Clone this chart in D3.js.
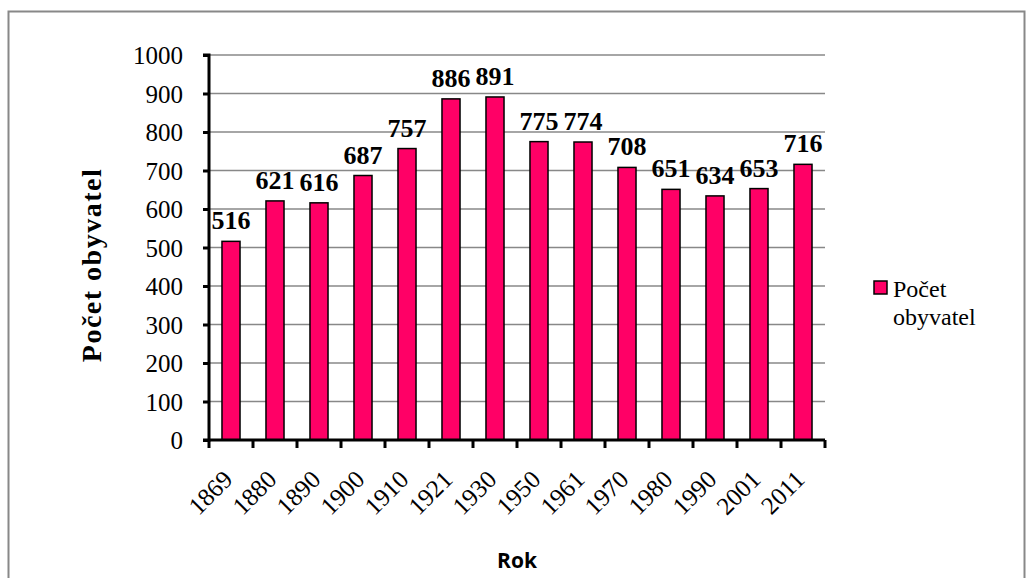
<!DOCTYPE html>
<html>
<head>
<meta charset="utf-8">
<script src="https://cdn.jsdelivr.net/npm/d3@7"></script>
<style>
  html, body { margin: 0; padding: 0; background: #fff; }
  svg { display: block; }
  .serif { font-family: "Liberation Serif", "Times New Roman", "DejaVu Serif", serif; }
</style>
</head>
<body>
<svg id="chart" width="1034" height="578"></svg>
<script>
const years = ["1869","1880","1890","1900","1910","1921","1930","1950","1961","1970","1980","1990","2001","2011"];
const population = [516, 621, 616, 687, 757, 886, 891, 775, 774, 708, 651, 634, 653, 716];
const yTicks = [0, 100, 200, 300, 400, 500, 600, 700, 800, 900, 1000];
const seriesName = ["Počet", "obyvatel"];
const yTitle = "Počet obyvatel";
const xTitle = "Rok";

(function () {
const svg = d3.select("#chart");
const barColor = "#FF0066";
const serifStack = '"Liberation Serif", "Times New Roman", "DejaVu Serif", serif';

// outer frame
svg.append("rect").attr("x", 8.5).attr("y", 11.5).attr("width", 1016).attr("height", 600)
  .attr("fill", "#fff").attr("stroke", "#888").attr("stroke-width", 2);

const pLeft = 209, pRight = 825, pTop = 55, pBottom = 440;
const x = d3.scaleBand().domain(years).range([pLeft, pRight]).paddingInner(0.59).paddingOuter(0.295);
const y = d3.scaleLinear().domain([0, 1000]).range([pBottom, pTop]);

// gridlines
svg.append("g").selectAll("line").data(yTicks.filter(d => d > 0)).join("line")
  .attr("x1", pLeft).attr("x2", pRight)
  .attr("y1", d => y(d)).attr("y2", d => y(d))
  .attr("stroke", "#888").attr("stroke-width", 1.5);

// bars
svg.append("g").selectAll("rect").data(population).join("rect")
  .attr("x", (d, i) => x(years[i]))
  .attr("y", d => y(d))
  .attr("width", x.bandwidth())
  .attr("height", d => y(0) - y(d))
  .attr("fill", barColor).attr("stroke", "#000").attr("stroke-width", 1.5);

// value labels
svg.append("g").selectAll("text").data(population).join("text")
  .attr("class", "serif")
  .attr("x", (d, i) => x(years[i]) + x.bandwidth() / 2)
  .attr("y", d => y(d) - 12)
  .attr("text-anchor", "middle")
  .style("font-weight", "bold").style("font-size", "26px")
  .text(d => d);

// y axis
const yAxis = d3.axisLeft(y).tickValues(yTicks).tickFormat(d3.format("d")).tickSize(6).tickPadding(20);
const gy = svg.append("g").attr("transform", `translate(${pLeft},0)`).call(yAxis);
gy.attr("font-family", null).attr("font-size", null);
gy.select(".domain").attr("stroke", "#000").attr("stroke-width", 3).attr("d", `M-6,${pTop}H0V${pBottom}H-6`);
gy.selectAll(".tick line").attr("stroke", "#000").attr("stroke-width", 3);
gy.selectAll(".tick text").attr("class", "serif").style("font-size", "25px").attr("fill", "#000").attr("dy", "0.35em");

// x axis
const xAxis = d3.axisBottom(x).tickSize(0).tickFormat(() => "");
const gx = svg.append("g").attr("transform", `translate(0,${pBottom})`).call(xAxis);
gx.select(".domain").attr("stroke", "#000").attr("stroke-width", 3).attr("d", `M${pLeft},0H${pRight}`);
const step = x.step();
const boundaries = years.map(d => x(d) + x.bandwidth() / 2 - step / 2).concat([pRight]);
gx.append("g").selectAll("line").data(boundaries).join("line")
  .attr("x1", d => d).attr("x2", d => d).attr("y1", 0).attr("y2", 8)
  .attr("stroke", "#000").attr("stroke-width", 3);

// x labels
svg.append("g").selectAll("text").data(years).join("text")
  .attr("class", "serif")
  .attr("transform", d => `translate(${x(d) + x.bandwidth() / 2 + 3},${pBottom + 41}) rotate(-45)`)
  .attr("text-anchor", "end")
  .style("font-size", "25px")
  .text(d => d);

// axis titles
svg.append("text")
  .attr("class", "serif")
  .attr("transform", `translate(101,${(163 + 367) / 2}) rotate(-90)`)
  .attr("text-anchor", "middle")
  .style("font-weight", "bold").style("font-size", "28px").style("letter-spacing", "1.5px")
  .text(yTitle);

svg.append("text")
  .attr("x", 517).attr("y", 568)
  .attr("text-anchor", "middle")
  .style("font-family", "'Open Sans', sans-serif").style("font-weight", "bold").style("font-size", "21px")
  .text(xTitle);

// legend
const lg = svg.append("g");
lg.append("rect").attr("x", 874).attr("y", 281).attr("width", 13).attr("height", 13)
  .attr("fill", barColor).attr("stroke", "#000").attr("stroke-width", 1.5);
lg.selectAll("text.leg").data(seriesName).join("text")
  .attr("class", "leg")
  .style("font-family", serifStack).style("font-size", "24px")
  .attr("x", 893).attr("y", (d, i) => 297 + i * 28)
  .text(d => d);
})();
</script>
</body>
</html>
